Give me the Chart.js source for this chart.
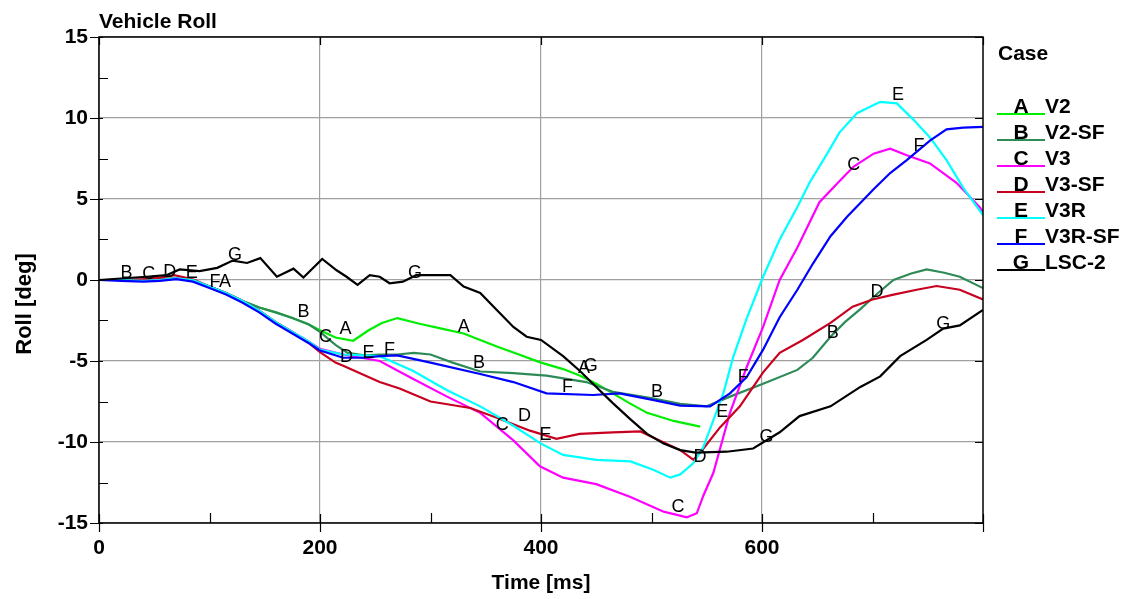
<!DOCTYPE html>
<html><head><meta charset="utf-8">
<script src="https://cdn.jsdelivr.net/npm/chart.js@4.4.0/dist/chart.umd.min.js"></script>
<style>html,body{margin:0;padding:0;background:#fff;overflow:hidden}#wrap{width:1128px;height:599px;position:relative}</style>
</head><body><div id="wrap"><canvas id="c" width="1128" height="599"></canvas></div>
<script>
// ---- data ----
const caseLetters = ['A','B','C','D','E','F','G'];
const caseNames = ['V2','V2-SF','V3','V3-SF','V3R','V3R-SF','LSC-2'];
const caseColors = ['#00ee00','#2e8b57','#ff00ff','#c80020','#00ffff','#0000ff','#000000'];
const xTicks = [0,200,400,600];
const yTicks = [-15,-10,-5,0,5,10,15];

const timeA = [0,20,40,55,70,85,100,115,130,145,160,175,190,200,214,230,244,256,270,290,310,330,360,380,400,420,435,450,465,480,496,520,544];
const rollA = [0,0,-0.05,0.05,0.1,-0.05,-0.4,-0.8,-1.3,-1.7,-2.0,-2.35,-2.75,-3.1,-3.55,-3.75,-3.1,-2.65,-2.35,-2.7,-3.0,-3.3,-4.1,-4.6,-5.1,-5.5,-5.9,-6.4,-7.0,-7.6,-8.2,-8.7,-9.05];

const timeB = [0,20,40,55,70,85,100,115,130,145,160,175,190,200,214,225,240,254,270,285,300,320,345,375,405,441,465,501,526,550,571,601,632,646,662,675,689,705,719,735,749,765,779,800];
const rollB = [0,0,-0.05,0.05,0.1,-0.05,-0.4,-0.8,-1.3,-1.7,-2.0,-2.35,-2.75,-3.2,-4.0,-4.5,-4.65,-4.6,-4.6,-4.5,-4.6,-5.1,-5.65,-5.75,-5.9,-6.3,-6.9,-7.3,-7.65,-7.8,-7.2,-6.4,-5.55,-4.8,-3.5,-2.6,-1.8,-0.8,0,0.4,0.65,0.45,0.2,-0.5];

const timeC = [0,20,40,55,70,85,100,115,130,145,160,175,190,200,221,254,284,315,345,375,399,420,450,481,511,532,541,547,556,571,586,601,616,632,652,670,683,701,716,731,752,776,797,800];
const rollC = [0,0,-0.05,0,0.1,0,-0.4,-0.8,-1.3,-1.9,-2.6,-3.2,-3.8,-4.25,-4.6,-5.0,-6.1,-7.2,-8.2,-9.9,-11.5,-12.2,-12.6,-13.4,-14.3,-14.65,-14.4,-13.3,-11.9,-8.2,-5.4,-2.9,0,2.0,4.8,6.1,7.0,7.8,8.1,7.7,7.2,6.0,4.5,4.2];

const timeD = [0,20,40,55,68,85,100,115,130,145,160,175,190,200,214,221,254,272,300,318,336,360,390,414,435,465,490,501,526,538,547,562,580,601,616,637,662,682,700,719,740,758,779,800];
const rollD = [0,0,0.05,0.15,0.3,0.05,-0.4,-0.8,-1.3,-1.9,-2.6,-3.2,-3.9,-4.45,-5.1,-5.3,-6.3,-6.7,-7.5,-7.7,-7.9,-8.5,-9.3,-9.8,-9.5,-9.4,-9.35,-9.7,-10.5,-11.1,-10.4,-9.1,-7.8,-5.7,-4.5,-3.7,-2.65,-1.65,-1.2,-0.9,-0.6,-0.37,-0.6,-1.2];

const timeE = [0,20,40,55,70,85,100,115,130,145,160,175,190,200,221,254,284,315,345,375,400,420,450,481,501,517,526,538,547,565,574,586,601,616,632,643,659,670,686,707,722,737,752,767,782,800];
const rollE = [0,0,-0.05,0,0.1,0,-0.4,-0.8,-1.3,-1.9,-2.6,-3.2,-3.8,-4.3,-4.6,-4.7,-5.6,-6.8,-7.8,-9.0,-10.1,-10.8,-11.1,-11.2,-11.7,-12.2,-12.0,-11.3,-10.3,-7.0,-4.75,-2.4,0.2,2.5,4.5,6.0,7.8,9.1,10.3,11.0,10.9,9.9,8.8,7.4,5.7,4.0];

const timeF = [0,20,40,55,70,85,100,115,130,145,160,175,190,200,221,240,254,270,300,345,375,405,447,471,501,526,553,571,586,601,616,632,646,662,677,701,716,731,752,767,782,800];
const rollF = [0,-0.05,-0.1,-0.05,0.05,-0.1,-0.5,-0.9,-1.4,-2.0,-2.7,-3.3,-3.9,-4.35,-4.8,-4.8,-4.7,-4.65,-5.1,-5.8,-6.3,-7.0,-7.1,-7.0,-7.4,-7.75,-7.8,-7.0,-6.0,-4.3,-2.3,-0.6,1.0,2.7,3.9,5.6,6.6,7.4,8.6,9.3,9.4,9.45];

const timeG = [0,43,61,73,91,107,121,134,146,161,176,185,202,215,224,234,245,254,263,275,287,318,330,345,360,375,387,400,420,435,450,465,481,496,511,526,540,568,592,616,634,662,689,707,725,749,764,779,800];
const rollG = [0,0.2,0.3,0.65,0.55,0.75,1.2,1.05,1.35,0.2,0.7,0.15,1.3,0.6,0.2,-0.3,0.3,0.2,-0.2,-0.1,0.3,0.3,-0.4,-0.8,-1.85,-2.9,-3.5,-3.7,-4.7,-5.6,-6.6,-7.6,-8.6,-9.5,-10.1,-10.5,-10.65,-10.6,-10.4,-9.4,-8.4,-7.8,-6.6,-5.95,-4.7,-3.7,-3.0,-2.8,-1.85];

// curve letter markers [time, roll]
const labelsA = [[114,-0.12],[223,-3.0],[330,-2.9],[439,-5.45]];
const labelsB = [[25,0.43],[185,-2.0],[344,-5.1],[505,-6.9],[664,-3.3]];
const labelsC = [[45,0.37],[205,-3.5],[365,-8.95],[524,-14.0],[683,7.1]];
const labelsD = [[64,0.5],[224,-4.75],[385,-8.4],[544,-10.9],[704,-0.75]];
const labelsE = [[84,0.43],[244,-4.5],[404,-9.6],[564,-8.15],[723,11.4]];
const labelsF = [[105,-0.12],[263,-4.3],[424,-6.6],[583,-6.0],[742,8.3]];
const labelsG = [[123,1.55],[286,0.43],[445,-5.3],[604,-9.7],[764,-2.7]];

const allTimes = [timeA,timeB,timeC,timeD,timeE,timeF,timeG];
const allRolls = [rollA,rollB,rollC,rollD,rollE,rollF,rollG];
const allLabels = [labelsA,labelsB,labelsC,labelsD,labelsE,labelsF,labelsG];

const FONT = "'Liberation Sans', Arial, sans-serif";

const datasets = caseLetters.map((L,i)=>({
  label: L + ' ' + caseNames[i],
  data: allTimes[i].map((t,k)=>({x:t, y:allRolls[i][k]})),
  borderColor: caseColors[i],
  backgroundColor: caseColors[i],
  borderWidth: 2.2,
  pointRadius: 0,
  tension: 0,
  fill: false,
  order: 6 - i
}));

const decor = {
  id: 'decor',
  afterDatasetsDraw(chart){
    const {ctx, chartArea:a, scales:{x,y}} = chart;
    ctx.save();
    // curve letters
    ctx.fillStyle = '#000';
    ctx.font = "18px " + FONT;
    ctx.textAlign = 'center';
    ctx.textBaseline = 'middle';
    allLabels.forEach((arr,i)=>{
      arr.forEach(p=>{
        ctx.fillText(caseLetters[i], x.getPixelForValue(p[0]), y.getPixelForValue(p[1]));
      });
    });
    // frame
    ctx.strokeStyle = '#000';
    ctx.lineWidth = 1.5;
    ctx.strokeRect(a.left, a.top, a.right - a.left, a.bottom - a.top);
    ctx.lineWidth = 1.2;
    ctx.beginPath();
    // x ticks
    for (let t = 0; t <= 800; t += 100) {
      const px = Math.round(x.getPixelForValue(t)) + 0.5;
      if (t % 200 === 0) {
        ctx.moveTo(px, a.bottom - 9); ctx.lineTo(px, a.bottom + 9);
        ctx.moveTo(px, a.top); ctx.lineTo(px, a.top + 8);
      } else {
        ctx.moveTo(px, a.bottom); ctx.lineTo(px, a.bottom - 10);
      }
    }
    // y ticks
    for (let v = -15; v <= 15; v += 2.5) {
      const py = Math.round(y.getPixelForValue(v)) + 0.5;
      if (v % 5 === 0) {
        ctx.moveTo(a.left - 9, py); ctx.lineTo(a.left + 4, py);
        ctx.moveTo(a.right - 8, py); ctx.lineTo(a.right, py);
      } else {
        ctx.moveTo(a.left, py); ctx.lineTo(a.left + 9, py);
      }
    }
    ctx.stroke();
    ctx.restore();
  },
  afterDraw(chart){
    const {ctx, chartArea:a} = chart;
    ctx.save();
    ctx.fillStyle = '#000';
    // title
    ctx.font = "bold 21px " + FONT;
    ctx.textAlign = 'left';
    ctx.textBaseline = 'middle';
    ctx.fillText('Vehicle Roll', 99, 22);
    // axis titles
    ctx.textAlign = 'center';
    ctx.font = "bold 21px " + FONT;
    ctx.fillText('Time [ms]', (a.left + a.right) / 2, 583);
    ctx.save();
    ctx.translate(25, 304);
    ctx.rotate(-Math.PI/2);
    ctx.font = "bold 22px " + FONT;
    ctx.fillText('Roll [deg]', 0, 0);
    ctx.restore();
    // legend
    ctx.font = "bold 21px " + FONT;
    ctx.textAlign = 'left';
    ctx.fillText('Case', 998, 54);
    caseLetters.forEach((L,i)=>{
      const cy = 107 + i * 26;
      ctx.strokeStyle = caseColors[i];
      ctx.lineWidth = 2.2;
      ctx.beginPath();
      ctx.moveTo(997, cy + 7); ctx.lineTo(1045, cy + 7);
      ctx.stroke();
      ctx.fillStyle = '#000';
      ctx.textAlign = 'center';
      ctx.fillText(L, 1021, cy);
      ctx.textAlign = 'left';
      ctx.fillText(caseNames[i], 1045, cy);
    });
    ctx.restore();
  }
};

new Chart(document.getElementById('c'), {
  type: 'line',
  data: { datasets },
  options: {
    responsive: false,
    animation: false,
    devicePixelRatio: 1,
    layout: { padding: { left: 0, right: 145, top: 37, bottom: 0 } },
    plugins: { legend: { display: false }, tooltip: { enabled: false }, title: { display: false } },
    scales: {
      x: {
        type: 'linear', min: 0, max: 800,
        afterFit: s => { s.height = 76; },
        afterBuildTicks: s => { s.ticks = xTicks.map(v => ({value: v})); },
        ticks: { font: { family: FONT, size: 21, weight: 'bold' }, color: '#000', padding: 13, maxRotation: 0, autoSkip: false },
        grid: { color: '#a0a0a0', lineWidth: 1.2, drawTicks: false },
        border: { display: false }
      },
      y: {
        type: 'linear', min: -15, max: 15,
        afterFit: s => { s.width = 99; },
        afterBuildTicks: s => { s.ticks = yTicks.map(v => ({value: v})); },
        ticks: { font: { family: FONT, size: 21, weight: 'bold' }, color: '#000', padding: 11, autoSkip: false },
        grid: { color: '#a0a0a0', lineWidth: 1.2, drawTicks: false },
        border: { display: false }
      }
    }
  },
  plugins: [decor]
});
</script></body></html>
